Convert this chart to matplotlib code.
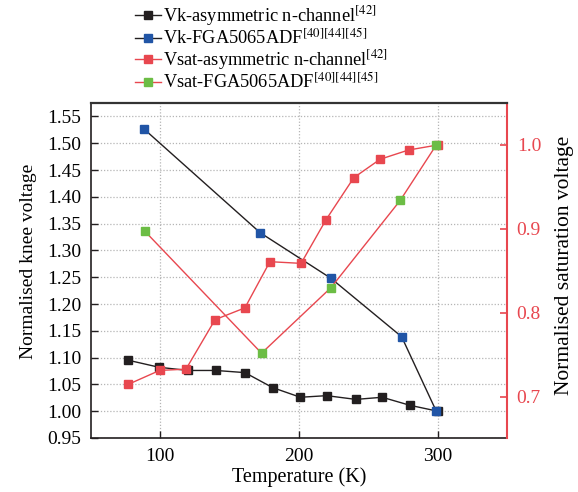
import matplotlib
matplotlib.use("Agg")
import matplotlib.pyplot as plt
from matplotlib.ticker import FixedLocator, FormatStrFormatter

plt.rcParams['font.family'] = ['Liberation Serif', 'DejaVu Serif']
plt.rcParams['mathtext.fontset'] = 'stix'

# ---- data ----
vk_asym_T = [77, 99, 120, 140, 161, 181, 201, 220, 241, 260, 280, 300]
vk_asym_V = [1.095, 1.082, 1.076, 1.076, 1.072, 1.044, 1.026, 1.029, 1.022, 1.026, 1.011, 1.000]
vk_fga_T = [88, 172, 223, 274, 299]
vk_fga_V = [1.527, 1.333, 1.248, 1.139, 1.000]
vsat_asym_T = [77, 99.5, 118.5, 139.5, 161, 179, 201.5, 219.5, 239.5, 258.5, 279, 300]
vsat_asym_V = [0.715, 0.7315, 0.733, 0.792, 0.806, 0.861, 0.859, 0.911, 0.961, 0.983, 0.994, 1.000]
vsat_fga_T = [89, 173, 223, 273, 299]
vsat_fga_V = [0.897, 0.752, 0.830, 0.934, 1.000]

left_ticks = [0.95, 1.00, 1.05, 1.10, 1.15, 1.20, 1.25, 1.30, 1.35, 1.40, 1.45, 1.50, 1.55]
right_ticks = [0.7, 0.8, 0.9, 1.0]
x_ticks = [100, 200, 300]

labels = [r'Vk-asymmetric n-channel$^{[42]}$',
          r'Vk-FGA5065ADF$^{[40][44][45]}$',
          r'Vsat-asymmetric n-channel$^{[42]}$',
          r'Vsat-FGA5065ADF$^{[40][44][45]}$']

BLACK = '#231f20'
BLUE = '#2155a6'
RED = '#e8474f'
GREEN = '#6cbd45'

fig = plt.figure(figsize=(5.78, 4.92), dpi=100)
ax = fig.add_axes([91/578, 1-438/492, (507-91)/578, (438-103)/492])
ax2 = ax.twinx()

ms = 6
lw = 1.0
l1, = ax.plot(vk_asym_T, vk_asym_V, '-s', color=BLACK, mfc=BLACK, mec=BLACK, ms=ms, lw=lw)
l2, = ax.plot(vk_fga_T, vk_fga_V, '-s', color=BLACK, mfc=BLUE, mec=BLUE, ms=ms, lw=lw)
l3, = ax2.plot(vsat_asym_T, vsat_asym_V, '-s', color=RED, mfc=RED, mec=RED, ms=ms, lw=lw)
l4, = ax2.plot(vsat_fga_T, vsat_fga_V, '-s', color=RED, mfc=GREEN, mec=GREEN, ms=ms, lw=lw)

ax.set_xlim(50, 350)
ax.set_ylim(0.95, 1.575)
ax2.set_ylim(0.651, 1.05)

ax.xaxis.set_major_locator(FixedLocator(x_ticks))
ax.yaxis.set_major_locator(FixedLocator(left_ticks))
ax.yaxis.set_major_formatter(FormatStrFormatter('%.2f'))
ax2.yaxis.set_major_locator(FixedLocator(right_ticks))
ax2.yaxis.set_major_formatter(FormatStrFormatter('%.1f'))

ax.grid(True, color='#b5b5b5', linestyle=(0, (1, 1.5)), linewidth=0.9)
ax.tick_params(axis='both', direction='in', length=5, width=1, labelsize=14, pad=7, color=BLACK)
ax2.tick_params(axis='y', direction='in', length=5, width=1.2, labelsize=14, pad=7,
                color=RED, labelcolor=RED)

for s in ['left', 'bottom']:
    ax.spines[s].set_color(BLACK)
    ax.spines[s].set_linewidth(1.2)
ax2.spines['left'].set_visible(False)
ax2.spines['bottom'].set_visible(False)
ax.spines['right'].set_visible(False)
ax2.spines['right'].set_color(RED)
ax2.spines['right'].set_linewidth(1.5)
ax2.spines['top'].set_color('#333333')
ax2.spines['top'].set_linewidth(1.6)
ax.spines['top'].set_visible(False)

ax.set_xlabel('Temperature (K)', fontsize=14.5, labelpad=2)
ax.set_ylabel('Normalised knee voltage', fontsize=14)
ax.yaxis.set_label_coords(-0.13, 0.528)
ax2.set_ylabel('Normalised saturation voltage', fontsize=15.5)
ax2.yaxis.set_label_coords(1.115, 0.515)

fig.legend([l1, l2, l3, l4], labels, loc='upper left',
           bbox_to_anchor=(135/578, 1-4/492), frameon=False, fontsize=13.2,
           handlelength=1.4, handletextpad=0.15, labelspacing=0.0, borderpad=0,
           borderaxespad=0)

fig.savefig('out.png', dpi=100)
